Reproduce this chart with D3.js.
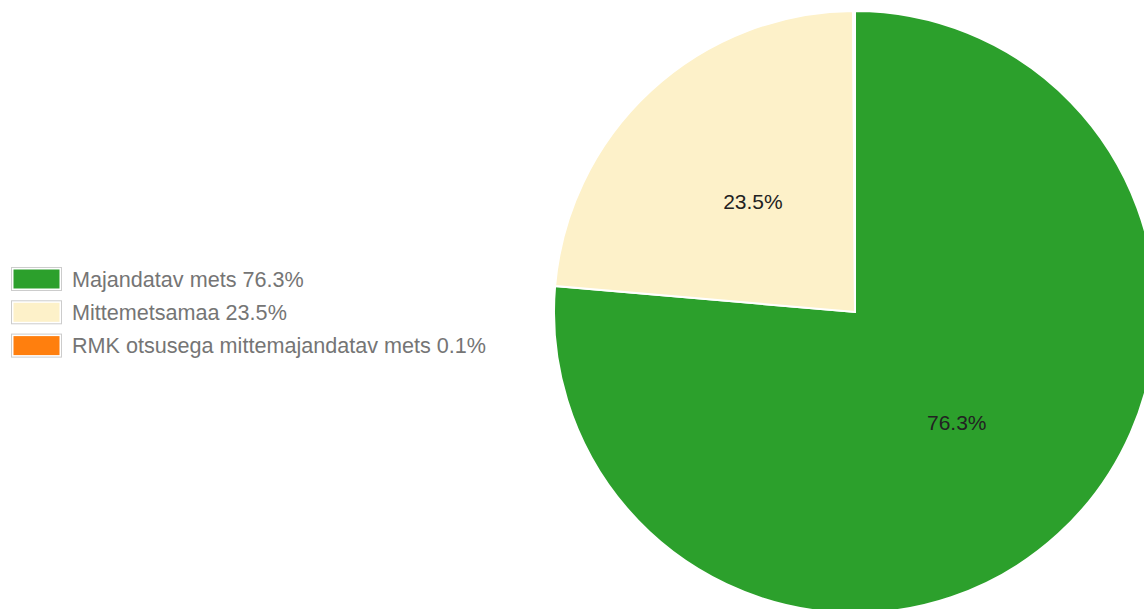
<!DOCTYPE html>
<html>
<head>
<meta charset="utf-8">
<script src="https://cdnjs.cloudflare.com/ajax/libs/d3/7.8.5/d3.min.js"></script>
<style>
  body { margin: 0; background: #fff; }
  svg { display: block; font-family: Arial, "Liberation Sans", sans-serif; }
</style>
</head>
<body>
<script>
const labels = ["Majandatav mets", "Mittemetsamaa", "RMK otsusega mittemajandatav mets"];
const values = [76.3, 23.5, 0.1];
const colors = ["#2ca02c", "#fdf1c9", "#ff7f0e"];

const width = 1144;
const height = 609;
const radius = 301;
const cx = 855;
const cy = 312;

const svg = d3
  .select("body")
  .append("svg")
  .attr("width", width)
  .attr("height", height);

const data = labels.map((d, i) => ({ label: d, value: values[i], color: colors[i] }));

const pie = d3.pie().value((d) => d.value).sort(null);
const arc = d3.arc().innerRadius(0).outerRadius(radius);

const g = svg.append("g").attr("transform", "translate(" + cx + "," + cy + ")");

const arcs = pie(data);

g.selectAll("path")
  .data(arcs)
  .enter()
  .append("path")
  .attr("d", arc)
  .attr("fill", (d) => d.data.color)
  .attr("stroke", "white")
  .attr("stroke-width", 2);

// percent labels only on the big slices
g.selectAll("text")
  .data(arcs.filter((d) => d.endAngle - d.startAngle > 0.2))
  .enter()
  .append("text")
  .attr("transform", (d) => "translate(" + arc.centroid(d) + ")")
  .attr("text-anchor", "middle")
  .attr("dy", "0.35em")
  .style("font-size", "21px")
  .style("fill", "#222")
  .text((d) => d.data.value.toFixed(1) + "%");

// legend
const legend = svg.append("g").attr("transform", "translate(11,267)");

const rows = legend
  .selectAll("g")
  .data(data)
  .enter()
  .append("g")
  .attr("transform", (d, i) => "translate(0," + i * 33.3 + ")");

rows.append("rect")
  .attr("x", 0.5)
  .attr("y", 0.5)
  .attr("width", 50)
  .attr("height", 23)
  .attr("fill", "white")
  .attr("stroke", "#ccc");

rows.append("rect")
  .attr("x", 2.5)
  .attr("y", 2.5)
  .attr("width", 46)
  .attr("height", 19)
  .attr("fill", (d) => d.color);

rows.append("text")
  .attr("x", 61)
  .attr("y", 12)
  .attr("dy", "0.35em")
  .style("font-size", "21.6px")
  .style("fill", "#757575")
  .text((d) => d.label + " " + d.value.toFixed(1) + "%");
</script>
</body>
</html>
